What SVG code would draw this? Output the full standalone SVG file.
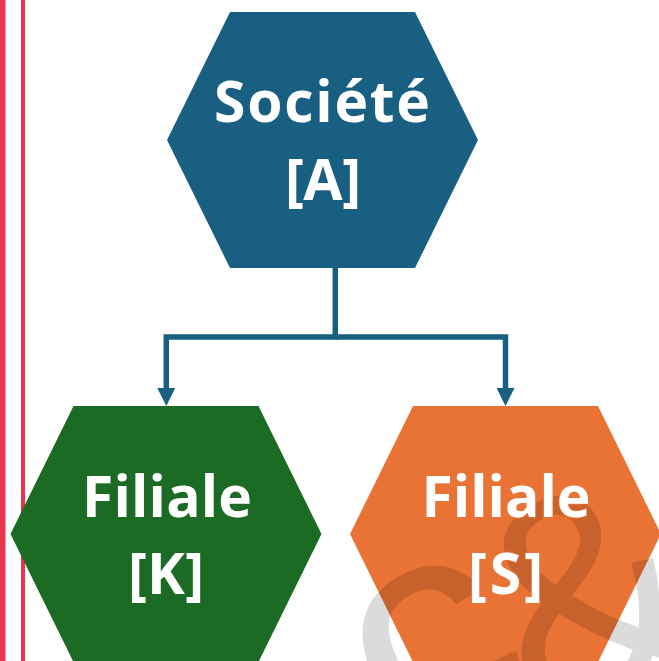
<svg xmlns="http://www.w3.org/2000/svg" xmlns:xlink="http://www.w3.org/1999/xlink" width="659" height="661" viewBox="0 0 659 661">
  <style>
    .rule { fill: #e8344f; }
    .hex-a { fill: #185f82; }
    .hex-k { fill: #1c6b24; }
    .hex-s { fill: #e87334; }
    .lbl { font-family: "Open Sans", "Liberation Sans", sans-serif; font-weight: 700; font-size: 57px; text-anchor: middle; }
    .link { fill: none; stroke: #185f82; stroke-width: 5.5; stroke-linejoin: miter; stroke-linecap: butt; }
    .mark { font-family: "Liberation Sans", "DejaVu Sans", sans-serif; font-weight: 400; }
  </style>
  <defs>
    <marker id="arrow" viewBox="0 0 18 18" refX="0" refY="9" markerWidth="18" markerHeight="18" markerUnits="userSpaceOnUse" orient="auto">
      <path d="M0 0 L18 9 L0 18 Z" fill="#185f82"/>
    </marker>
    <!-- keeps the watermark from tinting the white labels -->
    <mask id="wm-cut" maskUnits="userSpaceOnUse" x="0" y="0" width="659" height="661">
      <rect width="659" height="661" fill="#fff"/>
      <g fill="#000" stroke="#000" stroke-width="2">
        <use xlink:href="#lbl-a1"/>
        <use xlink:href="#lbl-a2"/>
        <use xlink:href="#lbl-k1"/>
        <use xlink:href="#lbl-k2"/>
        <use xlink:href="#lbl-s1"/>
        <use xlink:href="#lbl-s2"/>
      </g>
    </mask>
  </defs>

  <rect width="659" height="661" fill="#fff"/>

  <!-- margin rules -->
  <g id="margin-rules">
    <rect class="rule" x="0" y="0" width="5.5" height="661"/>
    <rect class="rule" x="21" y="0" width="4" height="661"/>
  </g>

  <!-- connectors -->
  <g id="connectors">
    <path class="link" d="M335.3 268 V337 H166.3 V388" marker-end="url(#arrow)"/>
    <path class="link" d="M335.3 337 H505.5 V388" marker-end="url(#arrow)"/>
  </g>

  <g id="node-societe-a">
    <polygon class="hex-a" points="230,12 415,12 478,140 415,268 230,268 167,140"/>
    <g fill="#fff">
      <text id="lbl-a1" class="lbl" x="322" y="122" textLength="216" lengthAdjust="spacing">Société</text>
      <text id="lbl-a2" class="lbl" x="323" y="200" textLength="76" lengthAdjust="spacing">[A]</text>
    </g>
  </g>

  <g id="node-filiale-k">
    <polygon class="hex-k" points="73.5,406 258.5,406 321.5,534 258.5,662 73.5,662 10.5,534"/>
    <g fill="#fff">
      <text id="lbl-k1" class="lbl" x="167" y="517" textLength="170" lengthAdjust="spacing">Filiale</text>
      <text id="lbl-k2" class="lbl" x="166" y="594" textLength="76" lengthAdjust="spacing">[K]</text>
    </g>
  </g>

  <g id="node-filiale-s">
    <polygon class="hex-s" points="413,406 598,406 661,534 598,662 413,662 350,534"/>
    <g fill="#fff">
      <text id="lbl-s1" class="lbl" x="506" y="517" textLength="169" lengthAdjust="spacing">Filiale</text>
      <text id="lbl-s2" class="lbl" x="505.5" y="594" textLength="75" lengthAdjust="spacing">[S]</text>
    </g>
  </g>

  <!-- faint watermark lettering, running off the bottom-right corner -->
  <g id="watermark" mask="url(#wm-cut)" fill="#000" fill-opacity="0.14">
    <text class="mark" x="408" y="768" font-size="320" transform="rotate(-29 408 768)">c</text>
    <text class="mark" x="546" y="734" font-size="300" transform="rotate(-29 546 734)">&amp;</text>
  </g>
</svg>
